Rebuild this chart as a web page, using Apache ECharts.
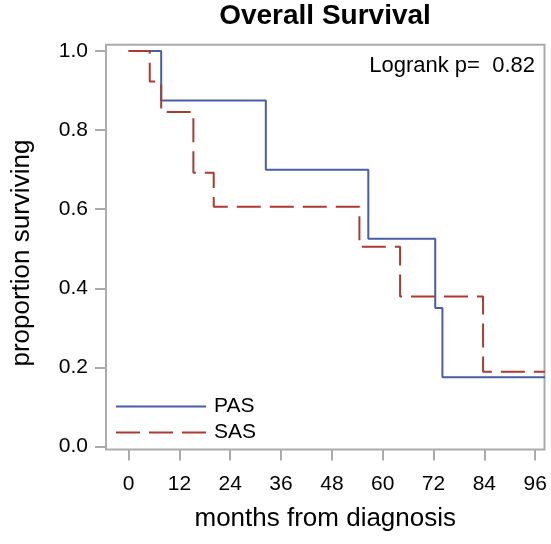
<!DOCTYPE html>
<html>
<head>
<meta charset="utf-8">
<script src="https://cdn.jsdelivr.net/npm/echarts@6/dist/echarts.min.js"></script>
<style>html,body{margin:0;padding:0;background:#fff;}#c{width:551px;height:544px;}</style>
</head>
<body>
<div id="c"></div>
<script>
// Kaplan-Meier step data (months, survival proportion)
var pasTimes = [0, 7.7, 32.4, 56.6, 72.4, 74.1, 98.3];
var pasSurv  = [1.0, 0.875, 0.70, 0.525, 0.35, 0.175, 0.175];
var sasTimes = [0, 5.0, 7.7, 15.3, 20.1, 54.5, 64.1, 83.7, 98.3];
var sasSurv  = [1.0, 0.923, 0.846, 0.692, 0.606, 0.505, 0.379, 0.189, 0.189];
var xTicks = [0, 12, 24, 36, 48, 60, 72, 84, 96];
var yTicks = [0.0, 0.2, 0.4, 0.6, 0.8, 1.0];
var seriesNames = ['PAS', 'SAS'];
var titleText = 'Overall Survival';
var pText = 'Logrank p=  0.82';
var xTitle = 'months from diagnosis';
var yTitle = 'proportion surviving';

function pairs(t, s) { return t.map(function (v, i) { return [v, s[i]]; }); }

var FONT = '"Liberation Sans", Arial, Helvetica, sans-serif';
var chart = echarts.init(document.getElementById('c'), null, {renderer: 'canvas'});
chart.setOption({
  animation: false,
  backgroundColor: '#ffffff',
  title: {
    text: titleText, left: 325, top: 2, textAlign: 'center', padding: 0,
    textStyle: {fontFamily: FONT, fontSize: 28, fontWeight: 'bold', color: '#000'}
  },
  grid: {
    left: 106, right: 6.5, top: 44.7, bottom: 94.5,
    show: true, borderColor: '#ababab', borderWidth: 2, backgroundColor: 'transparent'
  },
  xAxis: {
    type: 'value', min: -5.33, max: 98.2,
    name: xTitle, nameLocation: 'middle', nameGap: 56,
    nameTextStyle: {fontFamily: FONT, fontSize: 26, color: '#000'},
    axisLine: {show: false, onZero: false},
    axisTick: {show: true, length: 11, customValues: xTicks, lineStyle: {color: '#ababab', width: 2}},
    axisLabel: {customValues: xTicks, margin: 24, fontFamily: FONT, fontSize: 21, color: '#000'},
    splitLine: {show: false}
  },
  yAxis: {
    type: 'value', min: -0.0076, max: 1.016,
    name: yTitle, nameLocation: 'middle', nameGap: 71, nameRotate: 90,
    nameTextStyle: {fontFamily: FONT, fontSize: 26, color: '#000', padding: [0, 12, 0, 0]},
    axisLine: {show: false, onZero: false},
    axisTick: {show: true, length: 11, customValues: yTicks, lineStyle: {color: '#ababab', width: 2}},
    axisLabel: {customValues: yTicks, margin: 18, fontFamily: FONT, fontSize: 21, color: '#000',
      formatter: function (v) { return v.toFixed(1); }},
    splitLine: {show: false}
  },
  legend: {
    orient: 'vertical', left: 115, top: 396, padding: 0, itemGap: 5,
    itemWidth: 90, itemHeight: 14,
    itemStyle: {opacity: 0, borderWidth: 0},
    textStyle: {fontFamily: FONT, fontSize: 21, color: '#000', padding: [0, 0, 0, 3]},
    data: seriesNames
  },
  graphic: [{
    type: 'text', x: 535, y: 55,
    style: {text: pText, align: 'right', verticalAlign: 'top', font: '22px ' + FONT, fill: '#000'}
  }],
  series: [
    {
      name: seriesNames[0], type: 'line', step: 'end', symbol: 'none', clip: true,
      data: pairs(pasTimes, pasSurv),
      lineStyle: {color: '#4a5ca6', width: 2}, itemStyle: {color: '#4a5ca6'}
    },
    {
      name: seriesNames[1], type: 'line', step: 'end', symbol: 'none', clip: true,
      data: pairs(sasTimes, sasSurv),
      lineStyle: {color: '#ad3a30', width: 2, type: [24, 9]}, itemStyle: {color: '#ad3a30'}
    }
  ]
});
</script>
</body>
</html>
